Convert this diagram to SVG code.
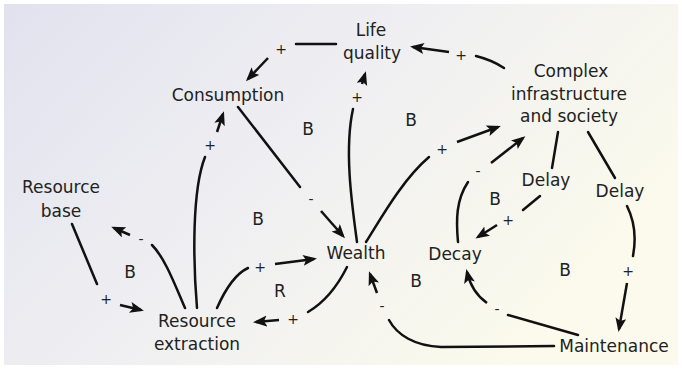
<svg xmlns="http://www.w3.org/2000/svg" width="682" height="371" viewBox="0 0 682 371">
<defs>
<linearGradient id="bg" x1="0" y1="0" x2="1" y2="0.5">
<stop offset="0" stop-color="#e2e2ef"/>
<stop offset="0.5" stop-color="#efeff2"/>
<stop offset="1" stop-color="#fbfaec"/>
</linearGradient>
<marker id="ah" markerUnits="userSpaceOnUse" markerWidth="18" markerHeight="13" refX="11" refY="5.5" orient="auto">
<path d="M0,0 L14,5.5 L0,11 L3,5.5 z" fill="#111"/>
</marker>
<style>
text{font-family:"DejaVu Sans","Liberation Sans",sans-serif;fill:#222;}
.n{font-size:17px;text-anchor:middle;}
.l{font-size:17px;text-anchor:middle;}
.p{font-size:14px;text-anchor:middle;}
.c{fill:none;stroke:#111;stroke-width:2.5;stroke-linecap:round;}
.a{fill:none;stroke:#111;stroke-width:2.5;marker-end:url(#ah);}
</style>
</defs>
<rect x="0" y="0" width="682" height="371" fill="#ffffff"/>
<rect x="4" y="4" width="674" height="361" fill="url(#bg)"/>

<g id="connectors">
<!-- Life quality -> Consumption -->
<path class="c" d="M336 44 L296 44"/>
<path class="a" d="M268 58 L248 79"/>
<!-- Complex -> Life quality -->
<path class="c" d="M504 68 Q492 60 476 56"/>
<path class="a" d="M449 52 L413 47"/>
<!-- Wealth -> Life quality -->
<path class="c" d="M357 242 C352 205 344 150 353 109"/>
<path class="a" d="M362 84 L365 74"/>
<!-- Consumption -> Wealth -->
<path class="c" d="M238 107 L300 187"/>
<path class="a" d="M321 211 L343 236"/>
<!-- Resource extraction -> Consumption -->
<path class="c" d="M197 308 C193 260 192 190 205 157"/>
<path class="a" d="M217 132 L223 114"/>
<!-- Resource extraction -> Resource base -->
<path class="c" d="M185 308 C175 285 165 258 152 245"/>
<path class="a" d="M130 235 L114 228"/>
<!-- Resource base -> Resource extraction -->
<path class="c" d="M72 224 L97 284"/>
<path class="a" d="M120 305 L141 310"/>
<!-- Resource extraction -> Wealth -->
<path class="c" d="M217 308 C225 290 235 274 248 268"/>
<path class="a" d="M275 264 L314 259"/>
<!-- Wealth -> Resource extraction -->
<path class="c" d="M347 267 C338 285 325 302 308 312"/>
<path class="a" d="M279 320 L256 322"/>
<!-- Wealth -> Complex -->
<path class="c" d="M366 242 C380 220 402 180 429 157"/>
<path class="a" d="M457 142 L498 127"/>
<!-- Decay -> Complex -->
<path class="c" d="M458 242 C456 220 456 200 468 182"/>
<path class="a" d="M491 163 L523 138"/>
<!-- Complex -> Delay -> Decay -->
<path class="c" d="M558 132 L552 168"/>
<path class="c" d="M540 196 L523 210"/>
<path class="a" d="M497 225 L478 237"/>
<!-- Complex -> Delay -> Maintenance -->
<path class="c" d="M588 132 L615 178"/>
<path class="c" d="M627 206 C635 222 636 240 633 256"/>
<path class="a" d="M627 283 L619 329"/>
<!-- Maintenance -> Decay -->
<path class="c" d="M578 335 L508 315"/>
<path class="a" d="M487 303 C477 296 470 285 467 272"/>
<!-- Maintenance -> Wealth -->
<path class="c" d="M554 346 L441 347 C415 346 397 335 389 320"/>
<path class="a" d="M377 293 L370 274"/>
</g>

<g id="polarities">
<text class="p" x="281" y="54">+</text>
<text class="p" x="461" y="60">+</text>
<text class="p" x="357" y="102">+</text>
<text class="p" x="311" y="204">-</text>
<text class="p" x="210" y="150">+</text>
<text class="p" x="141" y="244">-</text>
<text class="p" x="106" y="304">+</text>
<text class="p" x="260" y="272">+</text>
<text class="p" x="293" y="324">+</text>
<text class="p" x="442" y="154">+</text>
<text class="p" x="478" y="176">-</text>
<text class="p" x="508" y="225">+</text>
<text class="p" x="628" y="276">+</text>
<text class="p" x="497" y="314">-</text>
<text class="p" x="382" y="311">-</text>
</g>

<g id="loops">
<text class="l" x="308" y="135">B</text>
<text class="l" x="411" y="126">B</text>
<text class="l" x="258" y="225">B</text>
<text class="l" x="130" y="278">B</text>
<text class="l" x="280" y="297">R</text>
<text class="l" x="495" y="205">B</text>
<text class="l" x="416" y="287">B</text>
<text class="l" x="565" y="276">B</text>
</g>

<g id="life-quality"><text class="n" x="371" y="36">Life</text><text class="n" x="372" y="59">quality</text></g>
<g id="consumption"><text class="n" x="228" y="101">Consumption</text></g>
<g id="complex"><text class="n" x="571" y="77">Complex</text><text class="n" x="569" y="100">infrastructure</text><text class="n" x="569" y="122">and society</text></g>
<g id="resource-base"><text class="n" x="61" y="193">Resource</text><text class="n" x="61" y="217">base</text></g>
<g id="resource-extraction"><text class="n" x="197" y="327">Resource</text><text class="n" x="197" y="350">extraction</text></g>
<g id="wealth"><text class="n" x="356" y="259">Wealth</text></g>
<g id="decay"><text class="n" x="455" y="260">Decay</text></g>
<g id="delay1"><text class="n" x="546" y="186">Delay</text></g>
<g id="delay2"><text class="n" x="620" y="197">Delay</text></g>
<g id="maintenance"><text class="n" x="614" y="352">Maintenance</text></g>
</svg>
